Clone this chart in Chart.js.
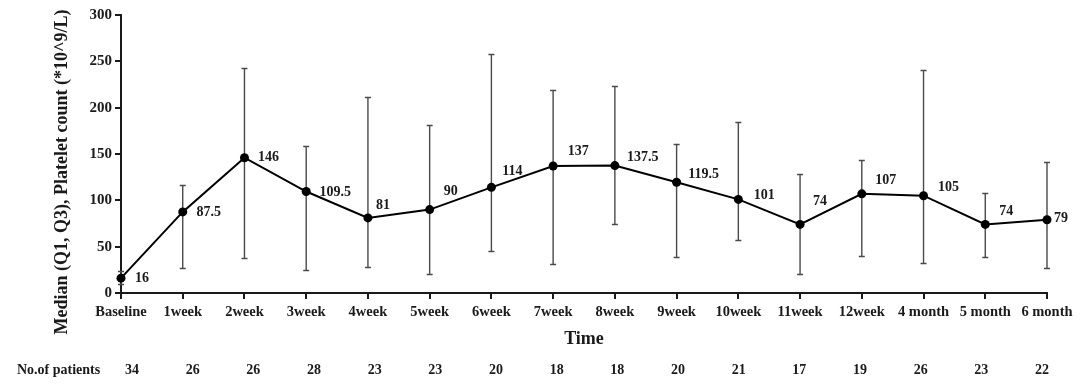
<!DOCTYPE html>
<html>
<head>
<meta charset="utf-8">
<script src="https://cdn.jsdelivr.net/npm/chart.js@4"></script>
<style>
  html, body { margin: 0; padding: 0; background: #fff; }
  #wrap { width: 1080px; height: 388px; }
</style>
</head>
<body>
<div id="wrap"><canvas id="platelet-chart"></canvas></div>
<script>
const timePoints = ['Baseline', '1week', '2week', '3week', '4week', '5week', '6week', '7week',
  '8week', '9week', '10week', '11week', '12week', '4 month', '5 month', '6 month'];
const medianValues = [16, 87.5, 146, 109.5, 81, 90, 114, 137, 137.5, 119.5, 101, 74, 107, 105, 74, 79];
const q1Values = [10, 27.5, 38, 24.5, 28.5, 21, 45.5, 31, 74.5, 38.5, 57.5, 20.5, 39.5, 32.5, 38.5, 27.5];
const q3Values = [24, 116.5, 243, 159, 212, 181.5, 258, 219.5, 223.5, 161, 185, 128.5, 144, 241, 108, 141.5];
const patientCounts = [34, 26, 26, 28, 23, 23, 20, 18, 18, 20, 21, 17, 19, 26, 23, 22];

// where each value label sits relative to its point (dx, dy in px)
const labelOffsets = [[21, 0], [26, 0], [24, 0], [29, 1], [15, -13], [21, -18], [21, -16], [25, -15],
  [28, -8], [27, -8], [26, -4], [20, -23], [24, -13], [25, -8], [21, -13], [14, -1]];

const serif = "'Liberation Serif', 'Times New Roman', serif";
const ink = '#1a1a1a';

const extras = {
  id: 'extras',
  beforeDatasetsDraw(chart) {
    const { ctx, scales: { x, y } } = chart;
    ctx.save();
    ctx.strokeStyle = '#4a4a4a';
    ctx.lineWidth = 1.4;
    timePoints.forEach((t, i) => {
      const px = x.getPixelForValue(i);
      const top = Math.round(y.getPixelForValue(q3Values[i])) + 0.5;
      const bot = Math.round(y.getPixelForValue(q1Values[i])) + 0.5;
      ctx.beginPath();
      ctx.moveTo(px, top); ctx.lineTo(px, bot);
      ctx.moveTo(px - 3, top); ctx.lineTo(px + 3, top);
      ctx.moveTo(px - 3, bot); ctx.lineTo(px + 3, bot);
      ctx.stroke();
    });
    ctx.restore();
  },
  afterDatasetsDraw(chart) {
    const { ctx, scales: { x, y } } = chart;
    ctx.save();
    ctx.fillStyle = ink;
    ctx.font = 'bold 14px ' + serif;
    ctx.textAlign = 'center';
    ctx.textBaseline = 'middle';
    medianValues.forEach((v, i) => {
      const [dx, dy] = labelOffsets[i];
      ctx.fillText(String(v), x.getPixelForValue(i) + dx, y.getPixelForValue(v) + dy);
    });

    // y axis title
    ctx.save();
    ctx.translate(62, 172);
    ctx.rotate(-Math.PI / 2);
    ctx.font = 'bold 18px ' + serif;
    ctx.fillText('Median (Q1, Q3), Platelet count (*10^9/L)', 0, 0);
    ctx.restore();

    // x axis title
    ctx.font = 'bold 18px ' + serif;
    ctx.fillText('Time', 584, 339);

    // patients row, spread a little narrower than the ticks
    ctx.font = 'bold 14px ' + serif;
    ctx.textAlign = 'left';
    ctx.fillText('No.of patients', 17, 370);
    ctx.textAlign = 'center';
    const last = patientCounts.length - 1;
    const first = x.getPixelForValue(0) + 11;
    const end = x.getPixelForValue(last) - 5;
    patientCounts.forEach((n, i) => {
      ctx.fillText(String(n), first + (end - first) * i / last, 370);
    });
    ctx.restore();
  }
};

new Chart(document.getElementById('platelet-chart'), {
  type: 'line',
  data: {
    labels: timePoints,
    datasets: [{
      data: medianValues,
      borderColor: '#000',
      borderWidth: 2,
      backgroundColor: '#000',
      pointRadius: 4.5,
      pointBackgroundColor: '#000',
      pointBorderWidth: 0,
      tension: 0,
      clip: false
    }]
  },
  options: {
    responsive: true,
    maintainAspectRatio: false,
    animation: false,
    layout: { padding: { top: 15, right: 33, bottom: 0, left: 0 } },
    plugins: { legend: { display: false }, tooltip: { enabled: false } },
    scales: {
      x: {
        offset: false,
        afterFit: (s) => { s.height = 95; },
        grid: { drawOnChartArea: false, drawTicks: true, tickLength: 6, color: ink, lineWidth: 2 },
        border: { color: ink, width: 2 },
        ticks: { color: ink, padding: 5, maxRotation: 0, autoSkip: false, font: { family: serif, size: 14.5, weight: 'bold' } }
      },
      y: {
        min: 0,
        max: 300,
        afterFit: (s) => { s.width = 121; },
        grid: { drawOnChartArea: false, drawTicks: true, tickLength: 6, color: ink, lineWidth: 2 },
        border: { color: ink, width: 2 },
        ticks: { stepSize: 50, color: ink, padding: 3, font: { family: serif, size: 15, weight: 'bold' } }
      }
    }
  },
  plugins: [extras]
});
</script>
</body>
</html>
